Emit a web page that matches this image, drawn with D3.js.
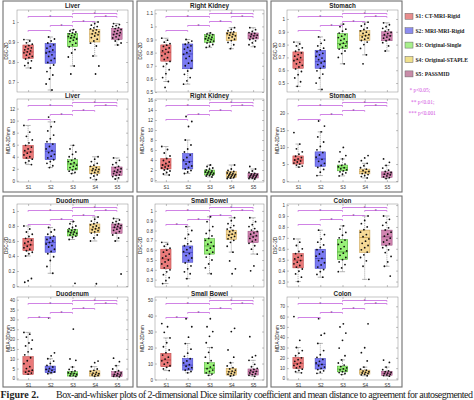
<!DOCTYPE html>
<html><head><meta charset="utf-8">
<script src="https://cdn.jsdelivr.net/npm/d3@7"></script>
<style>body{margin:0;background:#fff}svg{display:block}</style>
</head><body><svg id="c" width="474" height="400"></svg>
<script>
const series = ["S1","S2","S3","S4","S5"];
const seriesLabels = ["S1: CT-MRI-Rigid","S2: MRI-MRI-Rigid","S3: Original-Single","S4: Original-STAPLE","S5: PASSMID"];
const pLabels = ["* p<0.05;","** p<0.01;","*** p<0.001"];
const organs = ["Liver","Right Kidney","Stomach","Duodenum","Small Bowel","Colon"];
const metrics = ["DSC-2D","MDA-2D/mm"];
const comparisons = [["S3","S5"],["S1","S3"],["S4","S5"],["S3","S4"],["S2","S3"],["S1","S2"]];

// ---- Liver ----
const liverDSCDomain=[0.65,1.06], liverDSCTicks=[0.7,0.8,0.9,1];
const liverDSCBox=[[0.818,0.85,0.885],[0.793,0.85,0.893],[0.877,0.92,0.943],[0.90,0.94,0.963],[0.913,0.94,0.968]];
const liverDSCPts=[
[0.912,0.905,0.896,0.889,0.882,0.876,0.871,0.866,0.861,0.856,0.851,0.846,0.84,0.834,0.828,0.822,0.815,0.806,0.795,0.782,0.77],
[0.925,0.915,0.905,0.895,0.886,0.878,0.869,0.86,0.852,0.845,0.836,0.828,0.818,0.808,0.798,0.785,0.77,0.752,0.735,0.715,0.69,0.66],
[0.962,0.955,0.95,0.946,0.941,0.937,0.932,0.928,0.924,0.92,0.915,0.909,0.902,0.894,0.886,0.876,0.862,0.845,0.825,0.78,0.74],
[1.0,0.992,0.984,0.977,0.971,0.966,0.961,0.956,0.951,0.946,0.941,0.936,0.93,0.922,0.914,0.905,0.894,0.88,0.83,0.78,0.74],
[0.992,0.987,0.982,0.977,0.972,0.967,0.962,0.957,0.952,0.947,0.942,0.937,0.932,0.926,0.92,0.913,0.905,0.895,0.885]];
const liverMDADomain=[-0.2,13.6], liverMDATicks=[0,2,4,6,8,10,12];
const liverMDABox=[[3.7,4.8,5.9],[3.5,4.9,6.2],[1.8,2.8,3.5],[1.2,1.8,2.4],[0.9,1.5,2.3]];
const liverMDAPts=[
[9.2,8.1,7.4,6.8,6.3,5.9,5.6,5.3,5.0,4.8,4.6,4.3,4.0,3.8,3.6,3.3,3.0,2.7],
[10.6,9.8,9.0,8.3,7.6,7.0,6.5,6.1,5.7,5.3,5.0,4.7,4.4,4.1,3.8,3.5,3.2,2.9,2.5,2.2],
[5.9,5.3,4.8,4.4,4.0,3.7,3.4,3.2,3.0,2.8,2.6,2.4,2.2,2.0,1.8,1.6,1.4,1.2],
[4.0,3.6,3.2,2.9,2.6,2.4,2.2,2.0,1.9,1.8,1.7,1.5,1.4,1.2,1.0,0.8,0.5,0.2],
[3.8,3.4,3.0,2.7,2.4,2.2,2.0,1.8,1.6,1.5,1.4,1.2,1.0,0.9,0.7,0.5,0.3]];

// ---- Right Kidney ----
const rkDSCDomain=[0.5,1.125], rkDSCTicks=[0.5,0.6,0.7,0.8,0.9,1,1.1];
const rkDSCBox=[[0.735,0.803,0.859],[0.677,0.79,0.866],[0.879,0.904,0.937],[0.891,0.934,0.955],[0.904,0.93,0.95]];
const rkDSCPts=[
[0.91,0.895,0.88,0.868,0.857,0.847,0.836,0.825,0.814,0.803,0.79,0.777,0.762,0.748,0.733,0.715,0.695,0.67,0.64,0.61,0.58,0.535],
[0.9,0.888,0.876,0.864,0.852,0.84,0.827,0.814,0.8,0.787,0.772,0.756,0.738,0.72,0.7,0.68,0.66,0.635,0.61,0.585,0.56],
[0.95,0.943,0.937,0.93,0.924,0.918,0.912,0.906,0.9,0.894,0.888,0.882,0.874,0.862,0.85,0.84],
[0.99,0.978,0.967,0.958,0.952,0.946,0.94,0.934,0.928,0.92,0.912,0.902,0.892,0.878,0.86,0.83],
[0.99,0.975,0.962,0.953,0.946,0.94,0.934,0.928,0.922,0.915,0.908,0.9,0.89,0.875,0.86,0.845]];
const rkMDADomain=[-0.4,16.2], rkMDATicks=[0,2,4,6,8,10,12,14,16];
const rkMDABox=[[2.2,3.0,4.3],[2.2,3.7,5.3],[1.0,1.5,2.0],[0.5,1.1,1.7],[0.4,0.9,1.3]];
const rkMDAPts=[
[6.7,6.1,5.4,4.8,4.3,3.9,3.6,3.3,3.0,2.8,2.6,2.4,2.2,2.0,1.8,1.5,1.2,1.0],
[12.7,11.7,10.7,8.0,7.0,6.2,5.6,5.0,4.5,4.0,3.6,3.2,2.8,2.5,2.2,1.9,1.6,1.3],
[3.0,2.7,2.4,2.2,2.0,1.8,1.7,1.6,1.5,1.4,1.3,1.2,1.1,1.0,0.9,0.8,0.6],
[3.0,2.2,1.9,1.7,1.5,1.4,1.3,1.2,1.1,1.0,0.9,0.8,0.7,0.6,0.5,0.4,0.3],
[2.7,2.2,1.8,1.5,1.3,1.2,1.1,1.0,0.9,0.8,0.7,0.6,0.5,0.4,0.3,0.2]];

// ---- Stomach ----
const stDSCDomain=[0.43,1.07], stDSCTicks=[0.5,0.6,0.7,0.8,0.9,1];
const stDSCBox=[[0.615,0.68,0.743],[0.615,0.667,0.756],[0.77,0.808,0.885],[0.833,0.872,0.91],[0.83,0.87,0.90]];
const stDSCPts=[
[0.82,0.805,0.79,0.775,0.76,0.748,0.735,0.722,0.71,0.698,0.686,0.674,0.662,0.65,0.638,0.625,0.61,0.59,0.565,0.54,0.51,0.474],
[0.86,0.835,0.81,0.79,0.772,0.758,0.745,0.732,0.72,0.708,0.695,0.682,0.67,0.657,0.644,0.63,0.615,0.595,0.57,0.54,0.5,0.45],
[0.96,0.94,0.92,0.905,0.89,0.878,0.866,0.855,0.844,0.833,0.822,0.811,0.8,0.789,0.778,0.765,0.75,0.73,0.7,0.65],
[0.975,0.96,0.945,0.93,0.918,0.907,0.897,0.887,0.878,0.869,0.86,0.851,0.842,0.832,0.82,0.8,0.77,0.72,0.65],
[0.97,0.955,0.94,0.927,0.915,0.905,0.895,0.886,0.877,0.868,0.859,0.85,0.84,0.83,0.815,0.79,0.75]];
const stMDADomain=[-0.3,24.2], stMDATicks=[0,5,10,15,20];
const stMDABox=[[5.0,6.2,7.4],[4.3,6.5,8.6],[3.0,3.9,4.7],[2.1,2.8,3.5],[1.1,2.0,2.7]];
const stMDAPts=[
[14.3,10.9,9.5,8.6,7.9,7.3,6.9,6.5,6.2,5.9,5.6,5.3,5.0,4.7,4.4,4.1],
[17.7,16.2,14.5,13.0,11.5,10.2,9.2,8.4,7.7,7.0,6.4,5.8,5.2,4.6,4.0,3.4,2.6,1.6],
[9.9,8.6,7.5,6.5,5.7,5.0,4.6,4.2,3.9,3.6,3.3,3.0,2.7,2.4,2.0,1.5],
[7.5,6.8,6.0,5.2,4.5,3.9,3.5,3.1,2.8,2.5,2.2,1.9,1.6,1.3,0.9],
[6.5,5.5,4.6,3.8,3.2,2.8,2.5,2.2,2.0,1.8,1.5,1.2,1.0,0.7]];

// ---- Duodenum ----
const duDSCDomain=[-0.013,1.093], duDSCTicks=[0,0.2,0.4,0.6,0.8,1];
const duDSCBox=[[0.471,0.547,0.636],[0.449,0.58,0.658],[0.667,0.716,0.756],[0.71,0.76,0.827],[0.702,0.78,0.827]];
const duDSCPts=[
[0.8,0.76,0.72,0.69,0.66,0.635,0.61,0.59,0.57,0.55,0.53,0.51,0.49,0.47,0.45,0.43,0.4,0.1,0.07,0.05],
[0.78,0.75,0.72,0.69,0.665,0.64,0.62,0.6,0.58,0.56,0.54,0.52,0.49,0.46,0.43,0.39,0.34,0.26,0.17],
[0.86,0.83,0.8,0.78,0.765,0.75,0.74,0.73,0.72,0.71,0.7,0.69,0.68,0.665,0.65,0.62,0.036],
[0.92,0.89,0.865,0.845,0.83,0.815,0.8,0.787,0.775,0.763,0.75,0.737,0.722,0.705,0.68,0.64,0.6,0.03],
[0.9,0.88,0.86,0.845,0.83,0.818,0.806,0.795,0.783,0.77,0.757,0.742,0.725,0.705,0.68,0.64,0.6,0.16]];
const duMDADomain=[-0.8,41.4], duMDATicks=[0,5,10,15,20,25,30,35,40];
const duMDABox=[[2.0,3.7,11.1],[2.9,4.6,6.3],[1.2,2.5,3.4],[1.2,2.5,3.9],[0.9,2.0,3.4]];
const duMDAPts=[
[23.4,22.5,21.0,19.5,18.0,16.5,15.0,13.5,12.0,10.5,9.0,7.5,6.0,5.0,4.2,3.7,3.2,2.7,2.2],
[30.8,13.0,11.5,10.0,8.8,7.6,6.6,5.8,5.1,4.6,4.1,3.7,3.3,2.9,2.4],
[25.1,9.9,9.2,5.8,4.6,3.8,3.3,2.9,2.6,2.3,2.0,1.7,1.4,1.0],
[8.8,8.0,6.0,4.8,4.1,3.6,3.1,2.7,2.4,2.1,1.8,1.5,1.1],
[10.3,8.5,6.5,4.8,3.9,3.3,2.8,2.4,2.0,1.7,1.4,1.1,0.8]];

// ---- Small Bowel ----
const sbDSCDomain=[0.225,1.07], sbDSCTicks=[0.3,0.4,0.5,0.6,0.7,0.8,0.9,1];
const sbDSCBox=[[0.41,0.51,0.61],[0.477,0.577,0.643],[0.56,0.643,0.717],[0.71,0.76,0.803],[0.677,0.743,0.793]];
const sbDSCPts=[
[0.68,0.66,0.64,0.62,0.6,0.58,0.56,0.54,0.52,0.5,0.48,0.46,0.44,0.42,0.4,0.38,0.35,0.32,0.29,0.26],
[0.84,0.8,0.76,0.72,0.69,0.665,0.645,0.625,0.605,0.585,0.565,0.545,0.52,0.495,0.47,0.44,0.41,0.38,0.36,0.31],
[0.94,0.89,0.84,0.8,0.77,0.745,0.72,0.7,0.68,0.66,0.64,0.62,0.6,0.58,0.56,0.53,0.5,0.46,0.42,0.36],
[0.93,0.9,0.87,0.85,0.83,0.815,0.8,0.788,0.776,0.764,0.752,0.74,0.728,0.715,0.7,0.68,0.64,0.58,0.49,0.41,0.36],
[0.93,0.89,0.86,0.84,0.82,0.805,0.79,0.776,0.762,0.748,0.734,0.72,0.705,0.69,0.67,0.645,0.61,0.56,0.44,0.39]];
const sbMDADomain=[-0.3,51.6], sbMDATicks=[0,10,20,30,40,50];
const sbMDABox=[[8.0,12.2,16.4],[5.9,9.0,13.2],[3.9,7.0,10.5],[2.8,5.0,7.0],[2.8,5.0,6.6]];
const sbMDAPts=[
[35.0,33.0,29.5,26.0,23.0,20.5,18.5,16.8,15.3,14.0,12.8,11.7,10.6,9.6,8.6,7.6,6.6,5.6],
[38.0,33.0,26.5,22.5,19.0,16.5,14.5,13.0,11.6,10.4,9.3,8.3,7.4,6.6,5.8,5.0,4.2],
[38.0,33.0,30.0,27.0,23.0,20.0,17.0,14.0,11.8,10.2,8.9,7.8,6.8,5.9,5.0,4.2,3.4,2.6],
[32.0,30.0,18.5,14.0,10.5,8.5,7.4,6.6,5.9,5.3,4.8,4.3,3.8,3.3,2.8,2.2],
[26.8,15.0,14.0,12.0,9.5,8.0,7.0,6.3,5.7,5.1,4.6,4.1,3.6,3.1,2.6,2.0]];

// ---- Colon ----
const coDSCDomain=[0.25,1.01], coDSCTicks=[0.3,0.4,0.5,0.6,0.7,0.8,0.9,1];
const coDSCBox=[[0.425,0.495,0.557],[0.419,0.511,0.596],[0.502,0.571,0.685],[0.566,0.703,0.771],[0.633,0.709,0.771]];
const coDSCPts=[
[0.69,0.66,0.63,0.6,0.575,0.555,0.538,0.522,0.507,0.492,0.477,0.462,0.447,0.432,0.415,0.395,0.37,0.34,0.3],
[0.77,0.73,0.69,0.66,0.635,0.612,0.592,0.572,0.552,0.532,0.512,0.492,0.472,0.452,0.432,0.41,0.39,0.365,0.34],
[0.81,0.78,0.75,0.725,0.7,0.68,0.66,0.64,0.62,0.6,0.58,0.56,0.54,0.52,0.5,0.48,0.455,0.425,0.39],
[0.9,0.86,0.83,0.8,0.775,0.752,0.73,0.71,0.69,0.67,0.65,0.63,0.61,0.59,0.57,0.545,0.52,0.49,0.44,0.32],
[0.9,0.87,0.84,0.815,0.792,0.772,0.752,0.733,0.715,0.697,0.68,0.662,0.645,0.628,0.61,0.59,0.565,0.53,0.48,0.44,0.35]];
const coMDADomain=[-1.5,79], coMDATicks=[0,10,20,30,40,50,60,70];
const coMDABox=[[9.7,14.6,20.4],[9.1,13.6,19.4],[6.4,9.1,12.0],[4.2,6.1,8.1],[3.1,5.1,7.0]];
const coMDAPts=[
[60.0,37.0,30.0,27.0,24.5,22.0,20.0,18.2,16.6,15.2,13.9,12.6,11.4,10.2,9.0,7.8,6.6,5.5],
[58.0,43.7,42.0,34.0,27.0,23.0,20.5,18.5,16.6,15.0,13.6,12.3,11.0,9.8,8.6,7.4,6.2,5.0],
[53.0,50.0,44.0,37.0,29.5,22.0,18.0,15.0,13.0,11.5,10.3,9.3,8.4,7.5,6.6,5.7,4.8,3.8],
[53.0,29.8,25.0,17.0,11.0,9.0,8.0,7.2,6.5,5.9,5.3,4.7,4.1,3.4,2.6],
[17.8,15.5,11.0,8.5,7.3,6.5,5.8,5.2,4.6,4.0,3.4,2.8,2.2]];

// panels with whether the S1–S2 comparison shows a star
const panels = [
 {organ:0,metric:0,col:0,row:0,domain:liverDSCDomain,ticks:liverDSCTicks,box:liverDSCBox,pts:liverDSCPts,star12:false},
 {organ:0,metric:1,col:0,row:1,domain:liverMDADomain,ticks:liverMDATicks,box:liverMDABox,pts:liverMDAPts,star12:false},
 {organ:1,metric:0,col:1,row:0,domain:rkDSCDomain,ticks:rkDSCTicks,box:rkDSCBox,pts:rkDSCPts,star12:false},
 {organ:1,metric:1,col:1,row:1,domain:rkMDADomain,ticks:rkMDATicks,box:rkMDABox,pts:rkMDAPts,star12:false},
 {organ:2,metric:0,col:2,row:0,domain:stDSCDomain,ticks:stDSCTicks,box:stDSCBox,pts:stDSCPts,star12:false},
 {organ:2,metric:1,col:2,row:1,domain:stMDADomain,ticks:stMDATicks,box:stMDABox,pts:stMDAPts,star12:false},
 {organ:3,metric:0,col:0,row:2,domain:duDSCDomain,ticks:duDSCTicks,box:duDSCBox,pts:duDSCPts,star12:false},
 {organ:3,metric:1,col:0,row:3,domain:duMDADomain,ticks:duMDATicks,box:duMDABox,pts:duMDAPts,star12:true},
 {organ:4,metric:0,col:1,row:2,domain:sbDSCDomain,ticks:sbDSCTicks,box:sbDSCBox,pts:sbDSCPts,star12:true},
 {organ:4,metric:1,col:1,row:3,domain:sbMDADomain,ticks:sbMDATicks,box:sbMDABox,pts:sbMDAPts,star12:true},
 {organ:5,metric:0,col:2,row:2,domain:coDSCDomain,ticks:coDSCTicks,box:coDSCBox,pts:coDSCPts,star12:false},
 {organ:5,metric:1,col:2,row:3,domain:coMDADomain,ticks:coMDATicks,box:coMDABox,pts:coMDAPts,star12:false}
];

// ---------------- layout & style ----------------
const fills  = ["#e86b6b","#6b6bf2","#8ef06a","#f5d68c","#cc78a8"];
const edges  = ["#b83c3c","#3c3cb8","#3f9f25","#c39845","#94467a"];
const legFill= ["#e88c8c","#8c8cf0","#a8f08c","#f0e08c","#c88ca8"];
const sigCol = "#c463de";
const cols = [{l:17,r:128,yl:6},{l:155,r:264,yl:140},{l:287,r:398,yl:275}];
const rows = [{t:10,b:92},{t:99,b:182},{t:204,b:287},{t:297,b:380}];
const frames = [[3,1,130,191],[137,1,130,191],[271,1,131,191],[3,196,130,191],[137,196,130,191],[271,196,131,191]];
const sans = "Liberation Sans, Arial, sans-serif";
const serif = "Liberation Serif, Times New Roman, serif";

const svg = d3.select("#c");
svg.append("rect").attr("width",474).attr("height",400).attr("fill","#fff");

frames.forEach(f=>svg.append("rect").attr("x",f[0]).attr("y",f[1]).attr("width",f[2]).attr("height",f[3])
  .attr("fill","none").attr("stroke","#707070").attr("stroke-width",1.1));

const levelOff = [3,6,6,11,15,20];
const markLayer = svg.append("g");
const sigLayer = svg.append("g");

function drawPanel(p){
  const c = cols[p.col], r = rows[p.row];
  const x = d3.scalePoint().domain(series).range([c.l,c.r]).padding(0.5);
  const y = d3.scaleLinear().domain(p.domain).range([r.b,r.t]);
  const g = markLayer.append("g");
  const bw = x.step()*0.47;

  g.append("rect").attr("x",c.l).attr("y",r.t).attr("width",c.r-c.l).attr("height",r.b-r.t)
    .attr("fill","none").attr("stroke","#8a8a8a").attr("stroke-width",0.5);

  const ya = g.append("g").attr("transform",`translate(${c.l},0)`)
    .call(d3.axisLeft(y).tickValues(p.ticks).tickSize(-2).tickPadding(2).tickFormat(d3.format("~g")));
  const yr = g.append("g").attr("transform",`translate(${c.r},0)`)
    .call(d3.axisRight(y).tickValues(p.ticks).tickSize(-2).tickFormat(""));
  const xb = g.append("g").attr("transform",`translate(0,${r.b})`)
    .call(d3.axisBottom(x).tickSize(-2).tickPadding(3.5));
  const xt = g.append("g").attr("transform",`translate(0,${r.t})`)
    .call(d3.axisTop(x).tickSize(-2).tickFormat(""));
  [ya,yr,xb,xt].forEach(a=>{a.select(".domain").remove();
    a.selectAll("line").attr("stroke","#666").attr("stroke-width",0.4);
    a.selectAll("text").attr("font-size",4.6).attr("font-family",sans).attr("fill","#333");});
  if(p.metric===0) xb.selectAll("text").remove();

  // title and y label
  g.append("text").attr("x",(c.l+c.r)/2).attr("y",r.t-(p.metric===0&&p.row===0?1.8:0.7))
    .attr("text-anchor","middle").attr("font-family",sans).attr("font-weight","bold")
    .attr("font-size",6.3).attr("fill","#222").text(organs[p.organ]);
  g.append("text").attr("transform",`translate(${c.yl+(p.metric?2:0)},${(r.t+r.b)/2}) rotate(-90)`)
    .attr("text-anchor","middle").attr("dy","0.35em").attr("font-family",sans)
    .attr("font-size",4.6).attr("fill","#222").text(metrics[p.metric]);

  series.forEach((s,i)=>{
    const [q1,med,q3] = p.box[i];
    const pts = p.pts[i];
    const iqr = q3-q1;
    const inside = pts.filter(v=>v>=q1-1.5*iqr && v<=q3+1.5*iqr);
    const lo = Math.min(q1,d3.min(inside)), hi = Math.max(q3,d3.max(inside));
    const cx = x(s);
    // whiskers
    g.append("line").attr("x1",cx).attr("x2",cx).attr("y1",y(q3)).attr("y2",y(hi))
      .attr("stroke","#444").attr("stroke-width",0.4).attr("stroke-dasharray","1.2,0.8");
    g.append("line").attr("x1",cx).attr("x2",cx).attr("y1",y(q1)).attr("y2",y(lo))
      .attr("stroke","#444").attr("stroke-width",0.4).attr("stroke-dasharray","1.2,0.8");
    [lo,hi].forEach(v=>g.append("line").attr("x1",cx-bw*0.25).attr("x2",cx+bw*0.25)
      .attr("y1",y(v)).attr("y2",y(v)).attr("stroke","#444").attr("stroke-width",0.4));
    // box
    g.append("rect").attr("x",cx-bw/2).attr("y",y(q3)).attr("width",bw).attr("height",y(q1)-y(q3))
      .attr("fill",fills[i]).attr("fill-opacity",0.9).attr("stroke",edges[i]).attr("stroke-width",0.5);
    g.append("line").attr("x1",cx-bw/2).attr("x2",cx+bw/2).attr("y1",y(med)).attr("y2",y(med))
      .attr("stroke",edges[i]).attr("stroke-width",0.7);
    // points (deterministic jitter)
    g.selectAll(null).data(pts).join("circle")
      .attr("cx",(d,j)=>cx+((((j*7+i*3)%11)/10)-0.5)*bw*0.8)
      .attr("cy",d=>y(d)).attr("r",0.9).attr("fill","#111");
  });

  // significance bars (top layer)
  const sg = sigLayer.append("g");
  comparisons.forEach((cp,k)=>{
    const yy = Math.round(r.t+levelOff[k])+0.5;
    const x1 = x(cp[0]), x2 = x(cp[1]);
    sg.append("path").attr("d",`M${x1},${yy+1.2}V${yy}H${x2}V${yy+1.2}`)
      .attr("fill","none").attr("stroke",sigCol).attr("stroke-width",0.8);
    if(k<5 || p.star12)
      sg.append("text").attr("x",(x1+x2)/2).attr("y",yy+2).attr("text-anchor","middle")
        .attr("font-family",sans).attr("font-size",5).attr("fill","#7a3a8a").text("*");
  });
}
panels.forEach(drawPanel);

// legend
const lg = svg.append("g");
seriesLabels.forEach((t,i)=>{
  const yy = 13.3 + i*14.4;
  lg.append("rect").attr("x",405).attr("y",yy).attr("width",8).attr("height",6)
    .attr("fill",legFill[i]).attr("stroke","#666").attr("stroke-width",0.5);
  lg.append("text").attr("x",415.5).attr("y",yy+5).attr("font-family",serif).attr("font-weight","bold")
    .attr("font-size",5.6).attr("fill","#222").text(t);
});
const pX=[409.5,411,408.5];
pLabels.forEach((t,i)=>lg.append("text").attr("x",pX[i]).attr("y",92.3+i*11.2)
  .attr("font-family",serif).attr("font-size",5.4).attr("fill","#d04ce0").text(t));

// caption
svg.append("text").attr("x",0.5).attr("y",397.5).attr("font-family",serif).attr("font-weight","bold")
  .attr("font-size",10).attr("fill","#222").text("Figure 2.");
svg.append("text").attr("x",56).attr("y",397.5).attr("font-family",serif)
  .attr("font-size",10).attr("fill","#222").attr("textLength",417).attr("lengthAdjust","spacing")
  .text("Box-and-whisker plots of 2-dimensional Dice similarity coefficient and mean distance to agreement for autosegmented");
</script></body></html>
